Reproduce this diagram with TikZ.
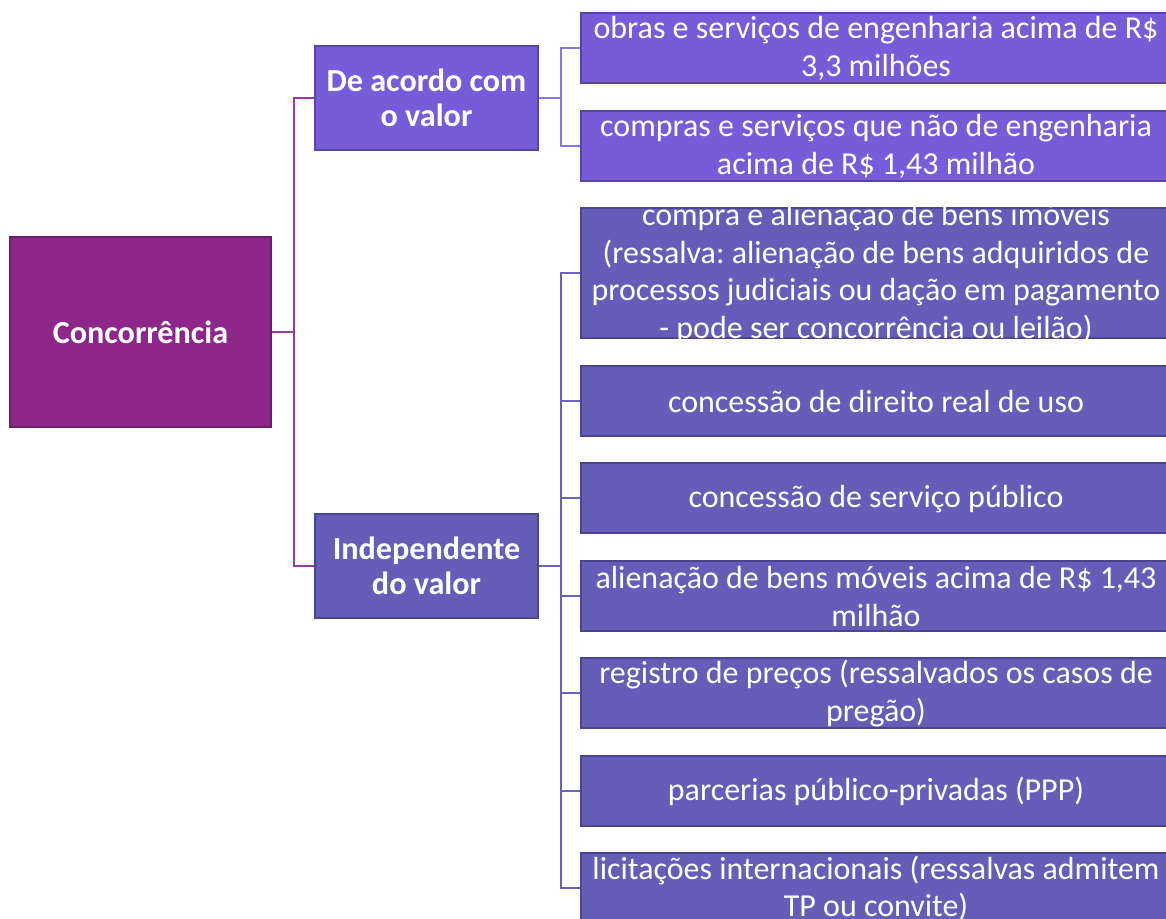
\documentclass[tikz,border=0pt]{standalone}
\usepackage{fontspec}
\setmainfont{Carlito}
\frenchspacing
\definecolor{concfill}{HTML}{8E278A}
\definecolor{concdraw}{HTML}{6C1D6A}
\definecolor{valfill}{HTML}{765CD9}
\definecolor{valdraw}{HTML}{5744A8}
\definecolor{indfill}{HTML}{665DB8}
\definecolor{inddraw}{HTML}{4B4490}
\definecolor{concedge}{HTML}{9C37A0}
\definecolor{valedge}{HTML}{8B74E0}
\definecolor{indedge}{HTML}{6A60C0}
\newcommand{\boxtext}[1]{\smash{\raisebox{-0.1cm}{\parbox[c]{11.7cm}{\centering\fontsize{18.2}{21.3}\selectfont #1}}}}
\tikzset{
  root/.style={draw=concdraw, fill=concfill, line width=1.2pt, minimum width=5.22cm,
    minimum height=3.8cm, text=white, font=\bfseries\fontsize{18.3}{21}\selectfont},
  mid/.style={line width=1.2pt, minimum width=4.46cm, minimum height=2.08cm, text=white,
    align=center, font=\bfseries\fontsize{18.3}{19.8}\selectfont},
  leaf/.style={line width=1.2pt, minimum width=11.8cm, minimum height=1.4cm, text=white,
    inner sep=0pt},
  rootedge/.style={draw=concedge, line width=1.2pt},
  valedgeline/.style={draw=valedge, line width=1.2pt},
  indedgeline/.style={draw=indedge, line width=1.2pt}
}
\begin{document}
\begin{tikzpicture}[x=0.02cm,y=-0.02cm]
\useasboundingbox (0,0) rectangle (1166,919);
\node[root] (conc) at (140.5,332) {Concorrência};
\node[mid, draw=valdraw, fill=valfill] (acordo) at (426.5,98) {De acordo com\\o valor};
\node[mid, draw=inddraw, fill=indfill] (indep) at (426.5,566) {Independente\\do valor};
% de acordo com o valor
\node[leaf, draw=valdraw, fill=valfill] (obras) at (876,48) {\boxtext{obras e serviços de engenharia acima de R\$\\3,3 milhões}};
\node[leaf, draw=valdraw, fill=valfill] (compras) at (876,146) {\boxtext{compras e serviços que não de engenharia\\acima de R\$ 1,43 milhão}};
% independente do valor
\node[leaf, draw=inddraw, fill=indfill, minimum height=2.6cm] (imoveis) at (876,273) {\boxtext{compra e alienação de bens imóveis\\(ressalva: alienação de bens adquiridos de\\processos judiciais ou dação em pagamento\\- pode ser concorrência ou leilão)}};
\node[leaf, draw=inddraw, fill=indfill] (direito) at (876,401) {\boxtext{concessão de direito real de uso}};
\node[leaf, draw=inddraw, fill=indfill] (servico) at (876,498) {\boxtext{concessão de serviço público}};
\node[leaf, draw=inddraw, fill=indfill] (moveis) at (876,596) {\boxtext{alienação de bens móveis acima de R\$ 1,43\\milhão}};
\node[leaf, draw=inddraw, fill=indfill] (precos) at (876,693) {\boxtext{registro de preços (ressalvados os casos de\\pregão)}};
\node[leaf, draw=inddraw, fill=indfill] (ppp) at (876,791) {\boxtext{parcerias público-privadas (PPP)}};
\node[leaf, draw=inddraw, fill=indfill] (intl) at (876,888) {\boxtext{licitações internacionais (ressalvas admitem\\TP ou convite)}};
% ligacoes
\draw[rootedge] (conc.east) -- ++(22,0) |- (acordo.west);
\draw[rootedge] (conc.east) -- ++(22,0) |- (indep.west);
\foreach \n in {obras,compras}
  \draw[valedgeline] (acordo.east) -- ++(22,0) |- (\n.west);
\foreach \n in {imoveis,direito,servico,moveis,precos,ppp,intl}
  \draw[indedgeline] (indep.east) -- ++(22,0) |- (\n.west);
\end{tikzpicture}
\end{document}
